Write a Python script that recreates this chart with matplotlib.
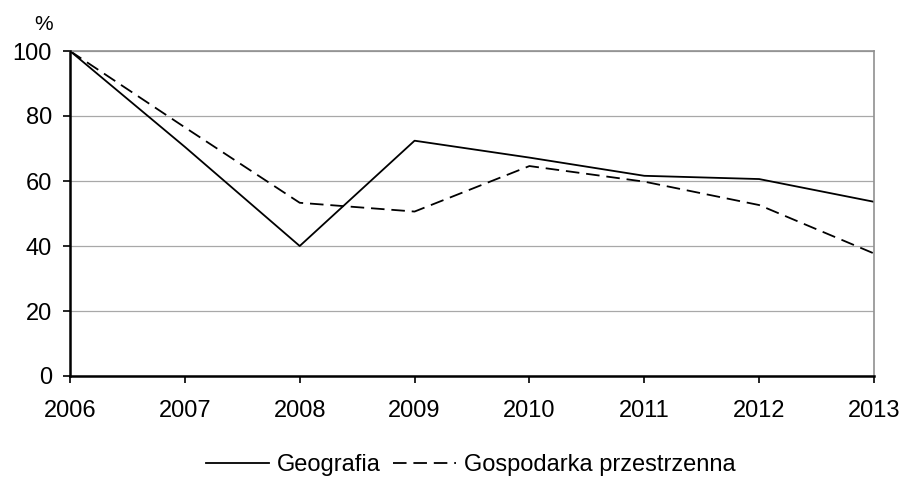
import matplotlib
matplotlib.use("Agg")
import matplotlib.pyplot as plt

years = [2006, 2007, 2008, 2009, 2010, 2011, 2012, 2013]
geografia = [100, 70.5, 40, 72.4, 67.2, 61.6, 60.6, 53.6]
gospodarka = [100, 76.5, 53.3, 50.6, 64.6, 59.8, 52.6, 37.7]
yticks = [0, 20, 40, 60, 80, 100]

plt.rcParams['font.family'] = ['Liberation Sans', 'DejaVu Sans']

fig = plt.figure(figsize=(9.02, 4.79), dpi=100)
ax = fig.add_axes([70/902, 1-376/479, (874-70)/902, (376-51)/479])

dash = (0, (7.5, 3.8))
ax.plot(years, geografia, color='black', lw=1.3, label='Geografia')
ax.plot(years, gospodarka, color='black', lw=1.3, ls=dash, label='Gospodarka przestrzenna')

ax.set_xlim(2006, 2013)
ax.set_ylim(0, 100)
ax.set_xticks(years)
ax.set_yticks(yticks)
ax.tick_params(labelsize=17, direction='out', length=5, width=1.2, color='black')
ax.tick_params(axis='x', pad=12)
ax.tick_params(axis='y', pad=8)
ax.grid(axis='y', color='#a8a8a8', lw=0.9)
ax.set_axisbelow(True)
for s in ['left', 'bottom']:
    ax.spines[s].set_color('black')
    ax.spines[s].set_linewidth(1.8)
for s in ['top', 'right']:
    ax.spines[s].set_color('#909090')
    ax.spines[s].set_linewidth(1.2)
ax.spines['left'].set_zorder(5)
ax.spines['bottom'].set_zorder(5)

fig.text(44/902, 1-24/479, '%', fontsize=15, ha='center', va='center')

leg = fig.legend(loc='center', bbox_to_anchor=(471/902, 1-465/479), ncol=2, frameon=False,
                 fontsize=17, handlelength=2.67, columnspacing=0.5, handletextpad=0.34,
                 borderpad=0, borderaxespad=0)

fig.savefig('out.png', dpi=100)
